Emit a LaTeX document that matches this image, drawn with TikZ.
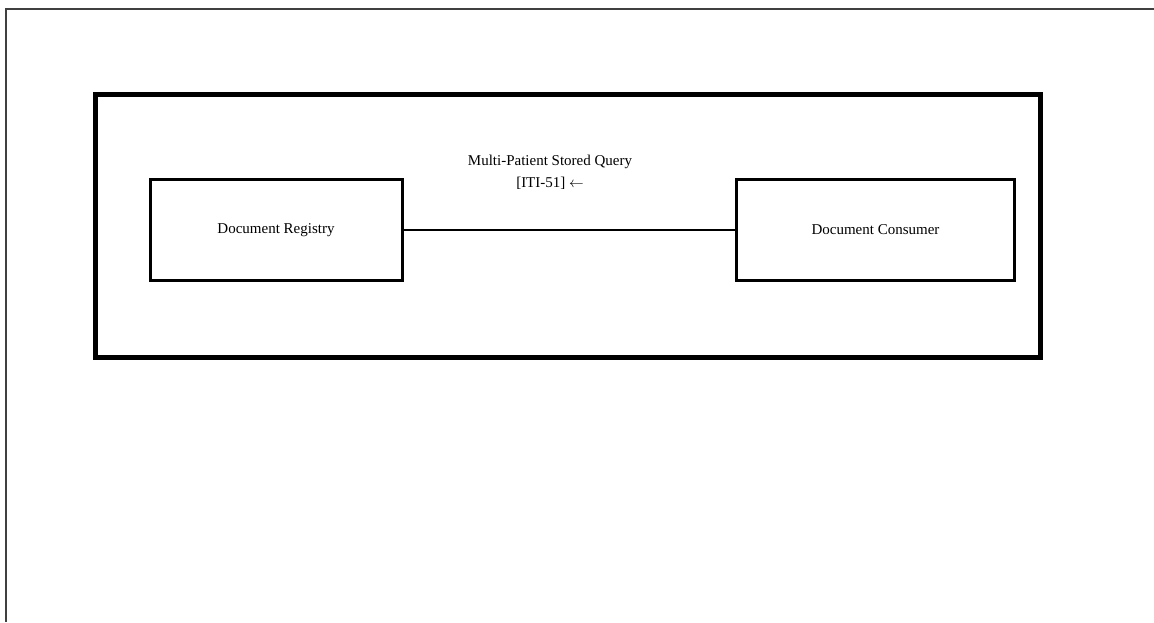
\documentclass[tikz,border=0pt]{standalone}
\usepackage{fontspec}
\setmainfont{Liberation Serif}
\usetikzlibrary{positioning}

\begin{document}
\begin{tikzpicture}[x=0.75pt, y=-0.75pt,
    font=\fontsize{11.25}{16.5}\selectfont,
    actor/.style={rectangle, draw, line width=2.25pt, align=center},
    system/.style={rectangle, draw, line width=3.75pt},
    link/.style={line width=1.5pt}]
    \useasboundingbox (0,0) rectangle (1154,622);
    % Frame
    \draw[line width=1.5pt, black!75] (1154,8.5) -- (6,8.5) -- (6,622);

    % Nodes
    \node[system, minimum width=708.75pt, minimum height=197.25pt] (sys) at (568,226) {};
    \node[actor, minimum width=189pt, minimum height=75.75pt] (reg) at (276,230) {Document Registry};
    \node[actor, minimum width=208.5pt, minimum height=75.75pt] (con) at (875.5,230) {Document Consumer};
    \node[align=center] (tx) at (550,172) {Multi-Patient Stored Query\\{}[ITI-51] $\leftarrow$};

    % Edges
    \draw[link] (reg) -- (con);
\end{tikzpicture}
\end{document}
